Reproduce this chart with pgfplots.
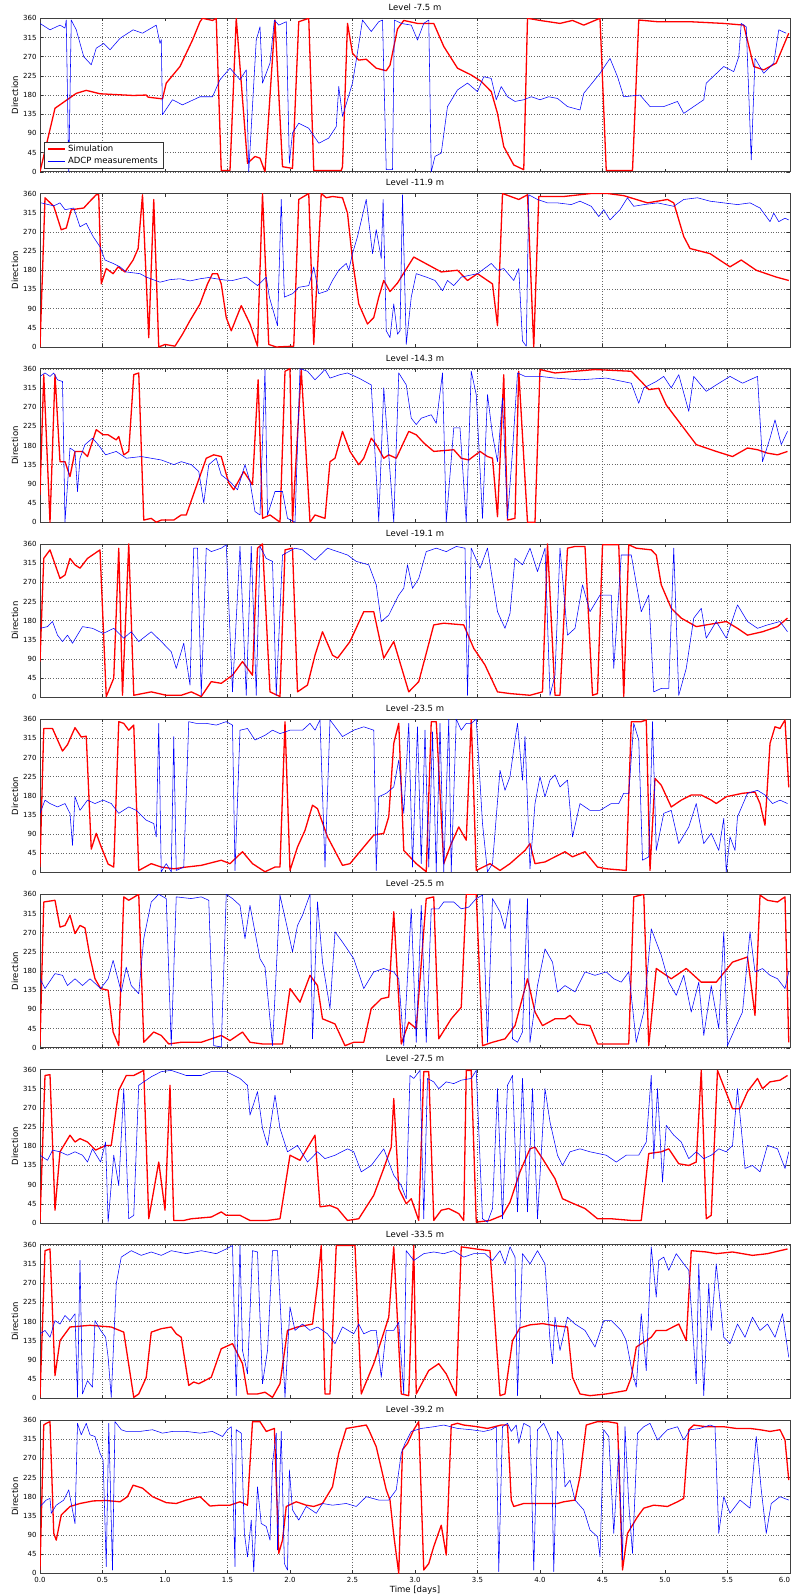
\documentclass[border=0pt]{standalone}
\usepackage{fontspec}
\setmainfont{DejaVu Sans}
\usepackage{pgfplots}
\pgfplotsset{compat=1.18}

\pgfplotsset{
  panel/.style={
    width=750pt, height=153.5pt, scale only axis,
    anchor=north west,
    xmin=0, xmax=6, ymin=0, ymax=360,
    xtick={0,0.5,...,5.5}, xticklabels={},
    ytick={0,45,...,360},
    extra x ticks={0.5,1.5,2.5,3.5,4.5,5.5},
    extra x tick labels={},
    extra x tick style={grid=major},
    ymajorgrids,
    grid style={black!60, line width=0.4pt, dash pattern=on 1pt off 1.6pt},
    axis line style={black!75, line width=0.7pt},
    tick align=inside, major tick length=3pt,
    tick style={black!80, line width=0.5pt},
    tick label style={font=\fontsize{7}{8}\selectfont},
    /pgf/number format/assume math mode=true,
    ylabel={Direction},
    ylabel style={font=\fontsize{8.5}{9}\selectfont, at={(axis description cs:-0.0333,0.5)}, anchor=center},
    title style={font=\fontsize{8.5}{9}\selectfont, yshift=-2pt},
    every axis plot/.append style={line join=round},
  },
  sim/.style={red, line width=1.3pt},
  adcp/.style={blue, line width=0.55pt},
}

\begin{document}
\begin{tikzpicture}
\useasboundingbox (0,0) rectangle (792pt,-1596pt);

% Level -7.5 m
\begin{axis}[panel, at={(40pt,-18.3pt)}, title={Level -7.5 m},
  legend style={at={(0.006,0.025)}, anchor=south west, font=\fontsize{8.5}{10}\selectfont,
    draw=black!80, fill=white, inner xsep=3pt, inner ysep=1pt, cells={anchor=west}}]
\addplot[sim] coordinates {(0,0) (0.12,149) (0.29,184) (0.37,191) (0.48,183) (0.745,179) (0.85,180) (0.865,175) (0.98,171) (1.01,208) (1.12,247) (1.17,278) (1.22,309) (1.28,352) (1.30,360) (1.38,355) (1.41,360) (1.45,3) (1.52,3) (1.57,360) (1.66,20) (1.72,36) (1.76,32) (1.80,0) (1.88,356) (1.94,12) (2.02,8) (2.07,352) (2.15,360) (2.19,3) (2.41,3) (2.42,12) (2.46,348) (2.50,278) (2.55,262) (2.61,264) (2.69,243) (2.77,237) (2.80,250) (2.86,335) (2.91,355) (3.02,348) (3.15,348) (3.23,294) (3.34,243) (3.45,227) (3.53,212) (3.61,188) (3.66,137) (3.71,59) (3.79,16) (3.87,5) (3.90,360) (4.00,355) (4.16,348) (4.26,355) (4.35,344) (4.48,360) (4.53,3) (4.74,3) (4.79,356) (4.94,352) (5.20,352) (5.47,348) (5.63,344) (5.71,247) (5.79,239) (5.89,255) (5.99,325)};
\addplot[adcp] coordinates {(0,348) (0.08,333) (0.16,344) (0.20,337) (0.21,356) (0.23,0) (0.25,356) (0.29,333) (0.35,270) (0.41,251) (0.45,290) (0.51,301) (0.56,286) (0.64,313) (0.745,333) (0.82,325) (0.93,344) (0.96,301) (0.97,310) (0.98,134) (1.06,169) (1.14,157) (1.28,176) (1.38,176) (1.44,216) (1.52,243) (1.60,216) (1.65,239) (1.67,0) (1.73,309) (1.76,340) (1.78,208) (1.84,255) (1.875,356) (1.91,344) (1.97,352) (1.995,20) (2.02,91) (2.07,114) (2.15,102) (2.23,67) (2.31,79) (2.37,106) (2.39,200) (2.42,130) (2.50,208) (2.54,280) (2.58,356) (2.65,329) (2.71,352) (2.74,356) (2.77,5) (2.82,5) (2.835,356) (2.89,348) (2.97,344) (3.02,309) (3.07,348) (3.11,356) (3.13,0) (3.16,36) (3.21,44) (3.26,153) (3.34,192) (3.42,208) (3.50,188) (3.55,223) (3.61,219) (3.65,169) (3.69,200) (3.74,176) (3.80,165) (3.87,169) (3.93,176) (4.00,169) (4.07,176) (4.14,172) (4.22,153) (4.32,145) (4.35,184) (4.48,231) (4.56,266) (4.62,223) (4.67,176) (4.80,180) (4.88,153) (4.99,153) (5.10,165) (5.15,137) (5.31,169) (5.33,208) (5.47,247) (5.55,235) (5.59,270) (5.61,348) (5.65,340) (5.69,28) (5.72,266) (5.79,231) (5.87,255) (5.91,333) (5.97,325)};
\legend{Simulation,ADCP measurements}
\end{axis}

% Level -11.9 m
\begin{axis}[panel, at={(40pt,-193.5pt)}, title={Level -11.9 m}]
\addplot[sim] coordinates {(0,0) (0.04,350) (0.11,330) (0.17,275) (0.21,279) (0.25,322) (0.35,326) (0.40,342) (0.45,357) (0.47,357) (0.49,148) (0.53,184) (0.585,172) (0.625,188) (0.68,176) (0.745,204) (0.785,231) (0.82,357) (0.87,22) (0.91,346) (0.95,0) (1.0,6) (1.08,2) (1.14,30) (1.20,62) (1.28,101) (1.34,148) (1.38,172) (1.42,172) (1.45,148) (1.49,69) (1.53,38) (1.61,97) (1.68,54) (1.74,2) (1.78,360) (1.83,6) (1.89,0) (2.03,2) (2.07,346) (2.15,360) (2.19,6) (2.25,360) (2.29,350) (2.34,353) (2.42,350) (2.46,314) (2.50,204) (2.55,101) (2.62,54) (2.67,69) (2.71,117) (2.75,156) (2.80,130) (2.86,150) (2.99,211) (3.21,176) (3.34,180) (3.42,156) (3.50,172) (3.62,148) (3.66,50) (3.70,360) (3.83,346) (3.90,357) (3.95,0) (3.99,353) (4.19,353) (4.41,360) (4.54,360) (4.67,355) (4.86,338) (5.02,346) (5.07,338) (5.15,259) (5.20,231) (5.36,219) (5.52,188) (5.61,204) (5.73,180) (5.89,164) (5.99,156)};
\addplot[adcp] coordinates {(0.01,338) (0.11,331) (0.16,338) (0.20,322) (0.27,326) (0.32,282) (0.37,290) (0.425,259) (0.48,235) (0.52,204) (0.585,196) (0.64,188) (0.69,176) (0.80,172) (0.85,164) (0.96,152) (1.04,158) (1.12,160) (1.20,155) (1.28,160) (1.35,163) (1.41,160) (1.48,157) (1.54,156) (1.65,164) (1.74,144) (1.81,164) (1.835,117) (1.90,50) (1.93,346) (1.955,117) (2.02,125) (2.07,140) (2.15,144) (2.19,188) (2.23,125) (2.30,132) (2.34,156) (2.39,180) (2.45,196) (2.47,180) (2.50,219) (2.54,259) (2.61,346) (2.66,219) (2.69,275) (2.73,208) (2.745,346) (2.77,38) (2.80,22) (2.83,101) (2.86,30) (2.88,38) (2.90,357) (2.93,6) (2.97,117) (3.01,172) (3.09,164) (3.16,156) (3.22,132) (3.26,156) (3.31,144) (3.37,164) (3.50,172) (3.61,196) (3.66,180) (3.71,184) (3.79,156) (3.83,184) (3.86,14) (3.89,2) (3.91,357) (3.98,346) (4.06,338) (4.14,338) (4.25,334) (4.32,342) (4.41,330) (4.47,306) (4.51,322) (4.56,298) (4.64,322) (4.70,350) (4.75,330) (4.83,334) (4.94,338) (5.07,330) (5.15,346) (5.26,350) (5.36,342) (5.47,338) (5.58,334) (5.68,338) (5.76,326) (5.84,294) (5.87,314) (5.91,294) (5.96,302) (5.99,298)};
\end{axis}

% Level -14.3 m
\begin{axis}[panel, at={(40pt,-368.7pt)}, title={Level -14.3 m}]
\addplot[sim] coordinates {(0,64) (0.03,346) (0.08,0) (0.12,346) (0.16,142) (0.20,142) (0.24,107) (0.28,166) (0.34,166) (0.38,154) (0.45,217) (0.505,205) (0.545,205) (0.61,193) (0.63,201) (0.67,158) (0.71,166) (0.75,346) (0.79,350) (0.83,5) (0.89,9) (0.93,0) (0.97,5) (1.07,5) (1.13,17) (1.17,17) (1.33,150) (1.39,158) (1.45,154) (1.51,92) (1.55,76) (1.63,119) (1.70,88) (1.745,334) (1.78,9) (1.84,17) (1.92,0) (1.96,354) (2.0,360) (2.02,0) (2.09,358) (2.16,0) (2.20,17) (2.28,9) (2.32,142) (2.36,150) (2.42,213) (2.48,166) (2.55,135) (2.59,150) (2.65,197) (2.69,182) (2.75,150) (2.79,158) (2.85,150) (2.95,213) (3.01,205) (3.07,186) (3.15,166) (3.31,170) (3.37,150) (3.43,146) (3.52,166) (3.58,154) (3.62,150) (3.66,13) (3.71,346) (3.74,5) (3.80,9) (3.83,354) (3.90,0) (3.96,0) (4.0,358) (4.12,350) (4.28,354) (4.44,358) (4.73,354) (4.81,330) (4.87,311) (4.95,314) (5.01,275) (5.09,244) (5.17,213) (5.25,182) (5.41,166) (5.54,154) (5.66,174) (5.74,170) (5.82,162) (5.90,158) (5.98,166)};
\addplot[adcp] coordinates {(0,342) (0.04,350) (0.08,342) (0.11,350) (0.14,334) (0.18,330) (0.20,0) (0.24,174) (0.28,166) (0.30,72) (0.32,150) (0.36,182) (0.42,197) (0.465,182) (0.525,158) (0.61,166) (0.69,150) (0.81,154) (0.89,150) (0.97,146) (1.07,135) (1.13,142) (1.21,135) (1.27,119) (1.31,45) (1.35,135) (1.41,150) (1.45,111) (1.52,95) (1.58,76) (1.64,135) (1.68,95) (1.72,25) (1.76,17) (1.80,358) (1.82,17) (1.88,72) (1.94,72) (1.98,9) (2.04,0) (2.08,360) (2.14,354) (2.20,334) (2.28,358) (2.32,338) (2.40,346) (2.46,350) (2.55,338) (2.65,322) (2.71,2) (2.75,315) (2.83,0) (2.87,350) (2.93,322) (2.97,244) (3.01,229) (3.05,244) (3.13,252) (3.17,232) (3.22,350) (3.25,0) (3.31,221) (3.36,221) (3.41,0) (3.45,354) (3.49,299) (3.54,9) (3.58,299) (3.62,205) (3.66,142) (3.70,291) (3.74,9) (3.78,166) (3.82,350) (3.88,342) (4.0,342) (4.12,338) (4.32,334) (4.53,338) (4.73,326) (4.79,279) (4.83,315) (4.93,330) (4.99,342) (5.05,315) (5.11,346) (5.19,260) (5.23,342) (5.33,307) (5.41,322) (5.52,342) (5.62,326) (5.74,342) (5.78,142) (5.84,197) (5.88,240) (5.93,182) (5.98,213)};
\end{axis}

% Level -19.1 m
\begin{axis}[panel, at={(40pt,-543.9pt)}, title={Level -19.1 m}]
\addplot[sim] coordinates {(0,84) (0.03,326) (0.08,346) (0.16,279) (0.20,287) (0.24,326) (0.28,311) (0.32,303) (0.38,326) (0.48,346) (0.53,2) (0.59,45) (0.63,350) (0.66,5) (0.71,360) (0.75,5) (0.89,13) (1.01,5) (1.13,5) (1.21,13) (1.29,2) (1.37,37) (1.45,33) (1.54,52) (1.62,84) (1.70,52) (1.74,350) (1.78,360) (1.84,13) (1.92,2) (1.96,346) (2.02,350) (2.06,13) (2.14,29) (2.20,99) (2.26,154) (2.34,99) (2.38,92) (2.48,131) (2.59,201) (2.67,201) (2.75,92) (2.83,131) (2.95,13) (3.03,37) (3.15,170) (3.23,174) (3.39,170) (3.47,115) (3.56,76) (3.66,13) (3.76,9) (3.92,5) (4.02,13) (4.06,360) (4.12,5) (4.16,5) (4.22,350) (4.28,354) (4.36,354) (4.42,5) (4.46,9) (4.50,358) (4.63,358) (4.67,2) (4.71,358) (4.77,350) (4.89,346) (4.93,334) (4.97,264) (5.05,209) (5.13,186) (5.25,166) (5.41,174) (5.49,178) (5.58,162) (5.66,146) (5.78,154) (5.90,166) (5.98,186)};
\addplot[adcp] coordinates {(0,162) (0.06,166) (0.10,178) (0.14,146) (0.18,131) (0.22,146) (0.26,127) (0.34,166) (0.42,162) (0.505,150) (0.59,162) (0.67,139) (0.73,154) (0.79,131) (0.89,154) (0.97,131) (1.05,107) (1.09,68) (1.15,127) (1.20,29) (1.23,350) (1.26,350) (1.29,5) (1.33,350) (1.37,342) (1.45,350) (1.49,358) (1.54,13) (1.60,354) (1.65,5) (1.69,354) (1.73,5) (1.76,354) (1.81,326) (1.86,319) (1.89,5) (1.94,334) (2.04,350) (2.10,346) (2.20,322) (2.30,350) (2.38,342) (2.46,334) (2.53,319) (2.63,311) (2.69,264) (2.73,178) (2.79,193) (2.87,240) (2.91,256) (2.94,311) (2.98,256) (3.03,279) (3.09,342) (3.17,350) (3.25,342) (3.33,354) (3.40,350) (3.42,5) (3.45,350) (3.52,303) (3.58,350) (3.66,201) (3.72,162) (3.76,197) (3.80,326) (3.86,311) (3.92,350) (3.98,295) (4.04,350) (4.08,5) (4.12,52) (4.16,350) (4.22,146) (4.28,162) (4.34,264) (4.40,201) (4.48,240) (4.57,240) (4.59,68) (4.65,334) (4.73,334) (4.81,201) (4.87,240) (4.91,13) (4.97,21) (5.03,21) (5.07,350) (5.11,5) (5.17,68) (5.23,186) (5.29,209) (5.33,139) (5.41,178) (5.49,139) (5.58,217) (5.66,178) (5.74,162) (5.82,170) (5.92,178) (5.98,154)};
\end{axis}

% Level -23.5 m
\begin{axis}[panel, at={(40pt,-719.1pt)}, title={Level -23.5 m}]
\addplot[sim] coordinates {(0,13) (0.03,338) (0.10,338) (0.18,285) (0.22,300) (0.28,340) (0.33,318) (0.37,320) (0.41,55) (0.45,92) (0.49,60) (0.545,20) (0.59,13) (0.63,354) (0.67,350) (0.71,334) (0.75,346) (0.79,5) (0.89,21) (0.97,13) (1.07,9) (1.17,13) (1.29,17) (1.45,29) (1.52,21) (1.62,49) (1.70,21) (1.80,2) (1.88,13) (1.92,13) (1.96,354) (2.0,5) (2.06,60) (2.12,99) (2.18,158) (2.22,150) (2.30,84) (2.42,17) (2.48,21) (2.59,60) (2.67,88) (2.75,92) (2.79,131) (2.83,303) (2.87,350) (2.91,52) (3.01,21) (3.09,2) (3.13,354) (3.17,354) (3.23,21) (3.29,68) (3.35,107) (3.41,76) (3.45,360) (3.49,5) (3.60,21) (3.68,5) (3.76,21) (3.88,52) (3.92,68) (3.96,21) (4.04,25) (4.12,37) (4.20,49) (4.26,37) (4.36,49) (4.46,13) (4.53,9) (4.69,5) (4.73,354) (4.81,354) (4.85,358) (4.88,5) (4.92,221) (4.97,205) (5.05,154) (5.13,170) (5.21,182) (5.29,182) (5.37,170) (5.41,162) (5.49,178) (5.62,186) (5.72,189) (5.76,162) (5.80,111) (5.84,303) (5.88,342) (5.92,338) (5.96,358) (5.99,200)};
\addplot[adcp] coordinates {(0,139) (0.04,170) (0.08,162) (0.14,154) (0.20,162) (0.24,139) (0.26,64) (0.28,178) (0.32,146) (0.38,170) (0.44,162) (0.505,170) (0.57,162) (0.63,139) (0.71,154) (0.77,146) (0.85,123) (0.91,115) (0.93,84) (0.95,350) (0.97,2) (1.01,21) (1.05,2) (1.07,319) (1.09,5) (1.15,13) (1.19,354) (1.25,350) (1.33,350) (1.41,346) (1.49,354) (1.54,346) (1.56,5) (1.60,334) (1.66,338) (1.72,311) (1.80,322) (1.86,334) (1.92,326) (2.0,334) (2.10,334) (2.16,350) (2.20,334) (2.24,358) (2.28,13) (2.32,358) (2.42,319) (2.51,334) (2.59,342) (2.67,334) (2.69,5) (2.71,178) (2.77,186) (2.83,201) (2.87,264) (2.91,139) (2.95,350) (2.98,13) (3.02,342) (3.05,21) (3.08,334) (3.11,13) (3.14,330) (3.17,2) (3.20,350) (3.23,2) (3.27,360) (3.29,2) (3.33,360) (3.37,334) (3.41,350) (3.45,350) (3.49,360) (3.54,115) (3.58,2) (3.62,21) (3.68,240) (3.72,193) (3.76,225) (3.80,311) (3.82,350) (3.86,217) (3.88,319) (3.92,9) (3.96,162) (4.0,225) (4.04,178) (4.08,217) (4.12,229) (4.16,201) (4.22,217) (4.26,84) (4.32,162) (4.40,146) (4.48,146) (4.57,162) (4.63,162) (4.67,186) (4.71,186) (4.75,350) (4.79,311) (4.82,29) (4.87,37) (4.90,354) (4.93,52) (4.99,139) (5.05,146) (5.11,68) (5.19,107) (5.25,162) (5.31,68) (5.37,92) (5.43,52) (5.47,127) (5.49,2) (5.52,84) (5.56,52) (5.58,131) (5.66,186) (5.74,193) (5.80,182) (5.86,162) (5.92,170) (5.98,162)};
\end{axis}

% Level -25.5 m
\begin{axis}[panel, at={(40pt,-894.3pt)}, title={Level -25.5 m}]
\addplot[sim] coordinates {(0,5) (0.03,342) (0.12,346) (0.16,283) (0.20,287) (0.24,311) (0.28,268) (0.32,287) (0.36,281) (0.40,213) (0.44,162) (0.485,139) (0.545,135) (0.585,37) (0.63,5) (0.67,354) (0.71,346) (0.79,360) (0.83,13) (0.91,37) (0.97,29) (1.03,9) (1.13,13) (1.29,13) (1.45,29) (1.52,17) (1.62,37) (1.68,13) (1.78,9) (1.94,9) (2.0,139) (2.08,107) (2.16,170) (2.22,146) (2.26,68) (2.36,56) (2.44,5) (2.51,13) (2.59,13) (2.65,92) (2.73,115) (2.79,119) (2.83,319) (2.89,9) (2.95,60) (3.01,45) (3.09,350) (3.15,354) (3.19,21) (3.29,68) (3.37,95) (3.41,360) (3.49,360) (3.54,5) (3.62,13) (3.72,21) (3.80,52) (3.90,162) (3.96,84) (4.02,52) (4.12,68) (4.20,68) (4.24,76) (4.30,56) (4.40,52) (4.46,9) (4.57,9) (4.71,9) (4.75,354) (4.83,360) (4.87,5) (4.93,186) (5.05,162) (5.17,186) (5.29,154) (5.41,154) (5.54,201) (5.66,213) (5.72,76) (5.76,358) (5.82,346) (5.90,342) (5.96,354) (5.99,13)};
\addplot[adcp] coordinates {(0,162) (0.04,139) (0.12,174) (0.18,170) (0.22,146) (0.28,162) (0.34,146) (0.40,162) (0.485,139) (0.545,162) (0.585,205) (0.65,131) (0.69,189) (0.73,146) (0.79,127) (0.83,256) (0.89,342) (0.95,360) (1.01,350) (1.05,5) (1.09,354) (1.21,350) (1.29,354) (1.35,346) (1.39,5) (1.45,2) (1.49,360) (1.54,350) (1.60,334) (1.64,256) (1.68,334) (1.76,209) (1.80,189) (1.86,5) (1.92,358) (1.98,279) (2.02,225) (2.06,287) (2.10,311) (2.16,360) (2.18,21) (2.22,342) (2.26,201) (2.32,92) (2.36,272) (2.42,248) (2.51,209) (2.59,139) (2.67,178) (2.75,186) (2.83,178) (2.87,162) (2.91,5) (2.97,326) (3.01,13) (3.05,334) (3.09,13) (3.13,326) (3.19,326) (3.23,342) (3.31,342) (3.37,326) (3.43,330) (3.49,350) (3.54,358) (3.58,13) (3.62,350) (3.68,319) (3.72,279) (3.76,350) (3.78,21) (3.82,13) (3.86,37) (3.90,350) (3.92,13) (3.98,146) (4.04,232) (4.10,201) (4.14,131) (4.20,146) (4.28,131) (4.36,178) (4.44,170) (4.53,178) (4.59,162) (4.65,154) (4.71,178) (4.77,13) (4.83,84) (4.89,279) (4.93,248) (4.97,217) (5.03,154) (5.09,123) (5.15,170) (5.21,84) (5.27,154) (5.31,29) (5.37,146) (5.43,45) (5.47,272) (5.50,5) (5.56,45) (5.62,84) (5.68,272) (5.72,178) (5.78,186) (5.84,170) (5.90,162) (5.96,139) (5.99,178)};
\end{axis}

% Level -27.5 m
\begin{axis}[panel, at={(40pt,-1069.5pt)}, title={Level -27.5 m}]
\addplot[sim] coordinates {(0,2) (0.04,346) (0.08,348) (0.12,30) (0.16,167) (0.24,206) (0.28,190) (0.32,198) (0.38,190) (0.445,171) (0.525,182) (0.57,182) (0.63,311) (0.69,346) (0.75,346) (0.83,358) (0.87,10) (0.95,143) (1.00,30) (1.04,323) (1.07,6) (1.15,6) (1.21,10) (1.37,14) (1.45,26) (1.49,18) (1.60,18) (1.68,6) (1.82,6) (1.92,10) (2.0,159) (2.08,147) (2.20,206) (2.24,38) (2.32,41) (2.38,34) (2.46,6) (2.55,10) (2.67,65) (2.75,128) (2.81,178) (2.83,292) (2.87,81) (2.93,45) (2.97,57) (3.03,6) (3.07,355) (3.11,355) (3.15,6) (3.21,30) (3.27,34) (3.35,22) (3.39,6) (3.41,358) (3.45,358) (3.49,2) (3.60,6) (3.70,18) (3.76,49) (3.84,120) (3.92,174) (3.96,178) (4.02,151) (4.12,104) (4.18,57) (4.24,49) (4.36,34) (4.46,10) (4.57,10) (4.73,6) (4.81,6) (4.87,163) (4.97,167) (5.03,174) (5.11,139) (5.19,135) (5.25,143) (5.29,358) (5.33,10) (5.37,18) (5.42,358) (5.54,268) (5.60,268) (5.66,308) (5.74,339) (5.78,315) (5.84,331) (5.92,335) (5.98,346)};
\addplot[adcp] coordinates {(0,159) (0.06,147) (0.10,171) (0.16,167) (0.22,159) (0.28,167) (0.34,159) (0.38,143) (0.42,174) (0.485,143) (0.525,190) (0.545,2) (0.59,159) (0.63,88) (0.67,315) (0.71,10) (0.75,18) (0.79,323) (0.83,331) (0.89,343) (0.97,355) (1.05,358) (1.17,346) (1.29,346) (1.37,355) (1.49,355) (1.60,339) (1.66,323) (1.68,253) (1.74,308) (1.78,222) (1.82,182) (1.88,300) (1.92,222) (1.98,167) (2.06,182) (2.14,143) (2.22,167) (2.28,151) (2.36,159) (2.46,174) (2.51,167) (2.57,120) (2.65,135) (2.75,174) (2.83,112) (2.89,88) (2.93,57) (2.96,346) (2.99,339) (3.04,358) (3.07,10) (3.10,339) (3.15,331) (3.19,315) (3.25,331) (3.31,327) (3.37,335) (3.45,339) (3.49,358) (3.54,10) (3.58,2) (3.62,34) (3.66,315) (3.70,10) (3.74,323) (3.78,346) (3.82,26) (3.86,339) (3.90,26) (3.94,315) (3.98,10) (4.04,315) (4.08,237) (4.14,159) (4.18,135) (4.24,167) (4.32,174) (4.40,167) (4.53,159) (4.61,143) (4.69,159) (4.79,159) (4.85,190) (4.89,346) (4.91,151) (4.94,315) (4.98,96) (5.01,229) (5.07,206) (5.13,190) (5.19,151) (5.25,167) (5.31,151) (5.37,159) (5.43,174) (5.49,167) (5.54,182) (5.58,315) (5.64,128) (5.70,135) (5.76,120) (5.82,182) (5.90,174) (5.96,128) (5.99,167)};
\end{axis}

% Level -33.5 m
\begin{axis}[panel, at={(40pt,-1244.7pt)}, title={Level -33.5 m}]
\addplot[sim] coordinates {(0,2) (0.04,346) (0.08,350) (0.12,53) (0.16,135) (0.24,167) (0.40,171) (0.57,167) (0.67,155) (0.75,2) (0.79,10) (0.85,49) (0.89,155) (0.97,163) (1.05,167) (1.09,151) (1.13,143) (1.19,30) (1.23,38) (1.27,34) (1.37,49) (1.45,116) (1.54,128) (1.62,81) (1.66,10) (1.74,10) (1.80,14) (1.86,2) (1.92,34) (1.98,159) (2.06,167) (2.18,174) (2.22,268) (2.25,358) (2.28,10) (2.32,10) (2.37,358) (2.52,358) (2.57,10) (2.67,81) (2.79,190) (2.83,355) (2.89,10) (2.95,6) (2.99,358) (3.01,10) (3.11,65) (3.19,81) (3.25,57) (3.33,6) (3.37,355) (3.49,350) (3.60,346) (3.68,6) (3.72,10) (3.78,135) (3.84,165) (3.92,172) (4.02,175) (4.12,170) (4.22,167) (4.26,49) (4.32,10) (4.40,6) (4.53,10) (4.69,18) (4.73,49) (4.77,120) (4.89,143) (4.93,159) (5.01,159) (5.11,174) (5.17,135) (5.21,346) (5.33,343) (5.41,339) (5.54,343) (5.70,335) (5.82,339) (5.92,346) (5.98,350)};
\addplot[adcp] coordinates {(0,151) (0.04,159) (0.08,143) (0.12,182) (0.16,174) (0.20,194) (0.24,182) (0.28,198) (0.30,2) (0.32,323) (0.34,10) (0.38,41) (0.42,26) (0.44,182) (0.485,159) (0.525,143) (0.545,96) (0.57,2) (0.61,268) (0.65,331) (0.73,346) (0.81,335) (0.89,343) (0.97,335) (1.05,346) (1.17,339) (1.29,346) (1.41,339) (1.49,350) (1.54,358) (1.57,6) (1.60,358) (1.62,112) (1.66,57) (1.70,346) (1.74,343) (1.78,34) (1.82,112) (1.86,346) (1.90,346) (1.96,2) (2.0,214) (2.04,159) (2.10,174) (2.16,159) (2.22,167) (2.30,151) (2.36,128) (2.42,167) (2.51,151) (2.55,174) (2.59,151) (2.65,159) (2.69,159) (2.73,49) (2.77,159) (2.83,159) (2.87,178) (2.91,10) (2.93,346) (2.99,323) (3.07,339) (3.15,343) (3.23,339) (3.31,346) (3.39,331) (3.47,339) (3.56,339) (3.62,323) (3.68,346) (3.72,315) (3.76,355) (3.80,331) (3.82,6) (3.86,339) (3.92,315) (3.98,346) (4.04,315) (4.08,135) (4.10,81) (4.12,190) (4.16,112) (4.22,190) (4.28,174) (4.36,159) (4.44,120) (4.51,182) (4.57,182) (4.65,159) (4.69,135) (4.73,73) (4.77,26) (4.81,198) (4.85,65) (4.89,355) (4.93,237) (4.95,323) (4.99,331) (5.03,300) (5.09,339) (5.15,315) (5.19,300) (5.25,34) (5.27,315) (5.31,6) (5.35,268) (5.37,159) (5.41,315) (5.47,143) (5.52,128) (5.58,174) (5.64,143) (5.70,190) (5.76,159) (5.82,174) (5.88,143) (5.94,198) (5.99,96)};
\end{axis}

% Level -39.2 m
\begin{axis}[panel, at={(40pt,-1419.9pt)}, title={Level -39.2 m},
  xtick={0,0.5,...,6},
  xticklabels={0.0,0.5,1.0,1.5,2.0,2.5,3.0,3.5,4.0,4.5,5.0,5.5,\makebox[0pt][r]{6.0}},
  xlabel={Time [days]}, xlabel style={font=\fontsize{8.5}{9}\selectfont, yshift=3pt}]
\addplot[sim] coordinates {(0,8) (0.03,348) (0.05,352) (0.08,356) (0.11,94) (0.13,78) (0.17,137) (0.24,157) (0.32,164) (0.425,170) (0.53,171) (0.64,168) (0.70,180) (0.745,207) (0.82,200) (0.90,180) (1.01,166) (1.09,164) (1.17,172) (1.28,180) (1.36,158) (1.44,160) (1.52,160) (1.60,168) (1.66,160) (1.70,356) (1.76,356) (1.81,333) (1.875,340) (1.91,47) (1.94,78) (1.97,157) (2.05,168) (2.13,160) (2.19,157) (2.26,164) (2.34,203) (2.39,282) (2.45,340) (2.53,344) (2.61,348) (2.63,337) (2.69,297) (2.77,196) (2.80,172) (2.83,90) (2.87,0) (2.90,290) (2.94,305) (2.99,337) (3.03,356) (3.07,8) (3.11,23) (3.15,63) (3.21,113) (3.25,43) (3.29,348) (3.34,352) (3.39,348) (3.50,344) (3.58,340) (3.69,348) (3.74,348) (3.77,172) (3.79,157) (3.87,164) (4.00,164) (4.14,164) (4.19,168) (4.28,172) (4.32,227) (4.37,348) (4.46,356) (4.54,356) (4.62,352) (4.66,8) (4.70,94) (4.78,133) (4.83,153) (4.91,160) (5.02,157) (5.10,168) (5.15,176) (5.19,337) (5.23,348) (5.33,344) (5.47,344) (5.57,340) (5.68,340) (5.76,337) (5.84,333) (5.92,337) (5.96,313) (5.99,219)};
\addplot[adcp] coordinates {(0,157) (0.05,172) (0.08,176) (0.09,141) (0.13,160) (0.19,172) (0.23,196) (0.25,164) (0.28,117) (0.30,352) (0.33,325) (0.37,352) (0.40,325) (0.44,321) (0.48,282) (0.505,266) (0.53,16) (0.55,352) (0.58,8) (0.60,356) (0.65,337) (0.69,333) (0.80,333) (0.90,337) (0.98,329) (1.06,333) (1.17,333) (1.28,329) (1.38,333) (1.46,321) (1.50,337) (1.53,344) (1.56,16) (1.57,337) (1.61,329) (1.635,94) (1.66,39) (1.69,125) (1.71,4) (1.74,203) (1.77,117) (1.81,110) (1.84,78) (1.86,258) (1.89,329) (1.90,55) (1.93,333) (1.955,23) (1.98,8) (1.995,243) (2.02,149) (2.07,125) (2.13,157) (2.21,141) (2.26,164) (2.34,160) (2.45,164) (2.53,157) (2.61,180) (2.71,172) (2.79,172) (2.85,196) (2.89,282) (2.92,305) (2.97,333) (3.05,340) (3.15,344) (3.23,348) (3.34,340) (3.45,337) (3.55,333) (3.61,337) (3.65,344) (3.67,4) (3.70,344) (3.74,352) (3.77,333) (3.81,348) (3.83,305) (3.87,352) (3.92,344) (3.95,8) (3.98,337) (4.03,352) (4.09,313) (4.11,4) (4.14,333) (4.18,313) (4.20,203) (4.24,219) (4.28,172) (4.35,149) (4.40,102) (4.46,86) (4.48,39) (4.51,337) (4.55,321) (4.59,94) (4.63,290) (4.66,31) (4.68,344) (4.71,164) (4.74,47) (4.78,329) (4.83,344) (4.88,352) (4.94,313) (5.02,337) (5.10,344) (5.15,313) (5.20,337) (5.28,340) (5.36,348) (5.40,344) (5.43,94) (5.47,180) (5.52,141) (5.60,172) (5.68,153) (5.73,321) (5.77,196) (5.81,94) (5.85,164) (5.92,180) (5.99,172)};
\end{axis}
\end{tikzpicture}
\end{document}
